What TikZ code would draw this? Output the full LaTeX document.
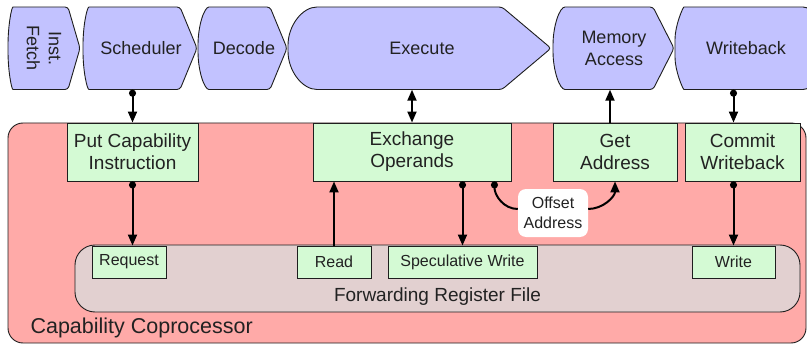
\documentclass[tikz,border=0pt]{standalone}
\usepackage{fontspec}
\setmainfont{Liberation Sans}
\usetikzlibrary{arrows.meta}

\definecolor{pipefill}{RGB}{194,194,255}
\definecolor{coprofill}{RGB}{255,170,168}
\definecolor{regfill}{RGB}{226,208,208}
\definecolor{unitfill}{RGB}{212,250,212}
\definecolor{edgecol}{RGB}{30,30,30}
\definecolor{textcol}{RGB}{34,34,34}

% outline of one pipeline stage: rounded left side, pointed right side
% #1 left x, #2 depth of the left curve, #3 tip x, #4 depth of the point
\newcommand\stageoutline[4]{%
  \path[stageshape] (#1+#2,7)
    .. controls (#1+0.448*#2,7) and (#1,25.5) .. (#1,48.25)
    .. controls (#1,71) and (#1+0.448*#2,89.5) .. (#1+#2,89.5)
    -- (#3-#4,89.5) -- (#3,48.25) -- (#3-#4,7) -- cycle;}

\begin{document}
\begin{tikzpicture}[x=1pt,y=-1pt,
  stageshape/.style={fill=pipefill, draw=edgecol, line width=0.9pt, rounded corners=3pt},
  stagebox/.style={inner sep=0pt, minimum height=82.5pt, text=textcol,
    font=\fontsize{18}{22}\selectfont, align=center},
  unit/.style={fill=unitfill, draw=edgecol, line width=0.9pt, inner sep=0pt,
    minimum height=58pt, text=textcol, font=\fontsize{19}{22}\selectfont, align=center},
  port/.style={fill=unitfill, draw=edgecol, line width=0.9pt, inner sep=0pt,
    minimum height=32pt, text=textcol, font=\fontsize{16}{20}\selectfont},
  tagbox/.style={fill=white, rounded corners=8pt, inner sep=0pt,
    minimum width=70pt, minimum height=48pt, text=textcol,
    font=\fontsize{16}{20}\selectfont, align=center},
  flow/.style={line width=2pt, -{Triangle[length=11pt,width=9pt]}},
  dotflow/.style={line width=2pt, {Circle[length=7pt]}-{Triangle[length=11pt,width=9pt]}},
  bothflow/.style={line width=2pt, {Triangle[length=11pt,width=9pt]}-{Triangle[length=11pt,width=9pt]}},
]
\useasboundingbox (0,0) rectangle (807,345);

% coprocessor and its register file
\node[fill=coprofill, draw=edgecol, line width=0.9pt, rounded corners=15pt,
      minimum width=798pt, minimum height=220pt, inner sep=0pt] (copro) at (407,233) {};
\node[anchor=west, text=textcol, font=\fontsize{21.5}{24}\selectfont] (coprolabel) at (27,328) {Capability Coprocessor};
\node[fill=regfill, draw=edgecol, line width=0.9pt, rounded corners=20pt,
      minimum width=725pt, minimum height=67pt, inner sep=0pt] (regfile) at (437.5,278.5) {};
\node[text=textcol, font=\fontsize{19}{22}\selectfont] (reglabel) at (437.5,297) {Forwarding Register File};

% coprocessor units
\node[unit, minimum width=131pt] (putcap) at (132.5,152) {Put Capability\\Instruction};
\node[unit, minimum width=198pt] (exch) at (412,152) {Exchange\\Operands};
\node[unit, minimum width=124pt] (getaddr) at (615,152) {Get\\Address};
\node[unit, minimum width=115pt] (commit) at (742.5,152) {Commit\\Writeback};

% register file ports
\node[port, minimum width=74pt] (req) at (129,262) {Request};
\node[port, minimum width=74pt] (rd) at (334,262) {Read};
\node[port, minimum width=149pt] (spec) at (462.5,262) {Speculative Write};
\node[port, minimum width=83pt] (wr) at (733.5,262) {Write};

% pipeline stages
\stageoutline{8}{8}{80}{12}
\stageoutline{83}{9}{197}{17}
\stageoutline{198}{14}{287}{17}
\stageoutline{288}{32}{551}{49}
\stageoutline{553}{15}{674}{21}
\path[stageshape, rounded corners=9pt] (693,7)
  .. controls (683,7) and (675,25.5) .. (675,48.25)
  .. controls (675,71) and (683,89.5) .. (693,89.5)
  -- (812,89.5) -- (812,7) -- cycle;

\node[stagebox, minimum width=72pt, rotate=-90] (fetch) at (44,48.25) {Inst.\\Fetch};
\node[stagebox, minimum width=110pt] (sched) at (141,48.25) {Scheduler};
\node[stagebox, minimum width=86pt] (decode) at (244,48.25) {Decode};
\node[stagebox, minimum width=260pt] (exec) at (422,48.25) {Execute};
\node[stagebox, minimum width=118pt] (mem) at (614,48.25) {Memory\\Access};
\node[stagebox, minimum width=120pt] (wb) at (746,48.25) {Writeback};

% connections between pipeline and coprocessor
\draw[dotflow] (putcap.north |- sched.south) -- (putcap.north);
\draw[bothflow] (exch.north |- exec.south) -- (exch.north);
\draw[flow] ([xshift=-5pt]getaddr.north) -- ([xshift=-5pt]getaddr.north |- mem.south);
\draw[dotflow] (wr.north |- wb.south) -- (wr.north |- commit.north);

% connections inside the coprocessor
\draw[dotflow] (putcap.south) -- (putcap.south |- req.north);
\draw[flow] (rd.north) -- (rd.north |- exch.south);
\draw[dotflow] (spec.north |- exch.south) -- (spec.north);
\draw[dotflow] (wr.north |- commit.south) -- (wr.north);

% offset address path from operands to address unit
\node[tagbox] (offs) at (553,213) {Offset\\Address};
\draw[line width=2pt, {Circle[length=7pt]}-] ([xshift=-17pt]exch.south east)
  to[out=-90,in=180] ([yshift=4pt]offs.west);
\draw[flow] ([yshift=4pt]offs.east) to[out=0,in=-90] (getaddr.south);
\end{tikzpicture}
\end{document}
